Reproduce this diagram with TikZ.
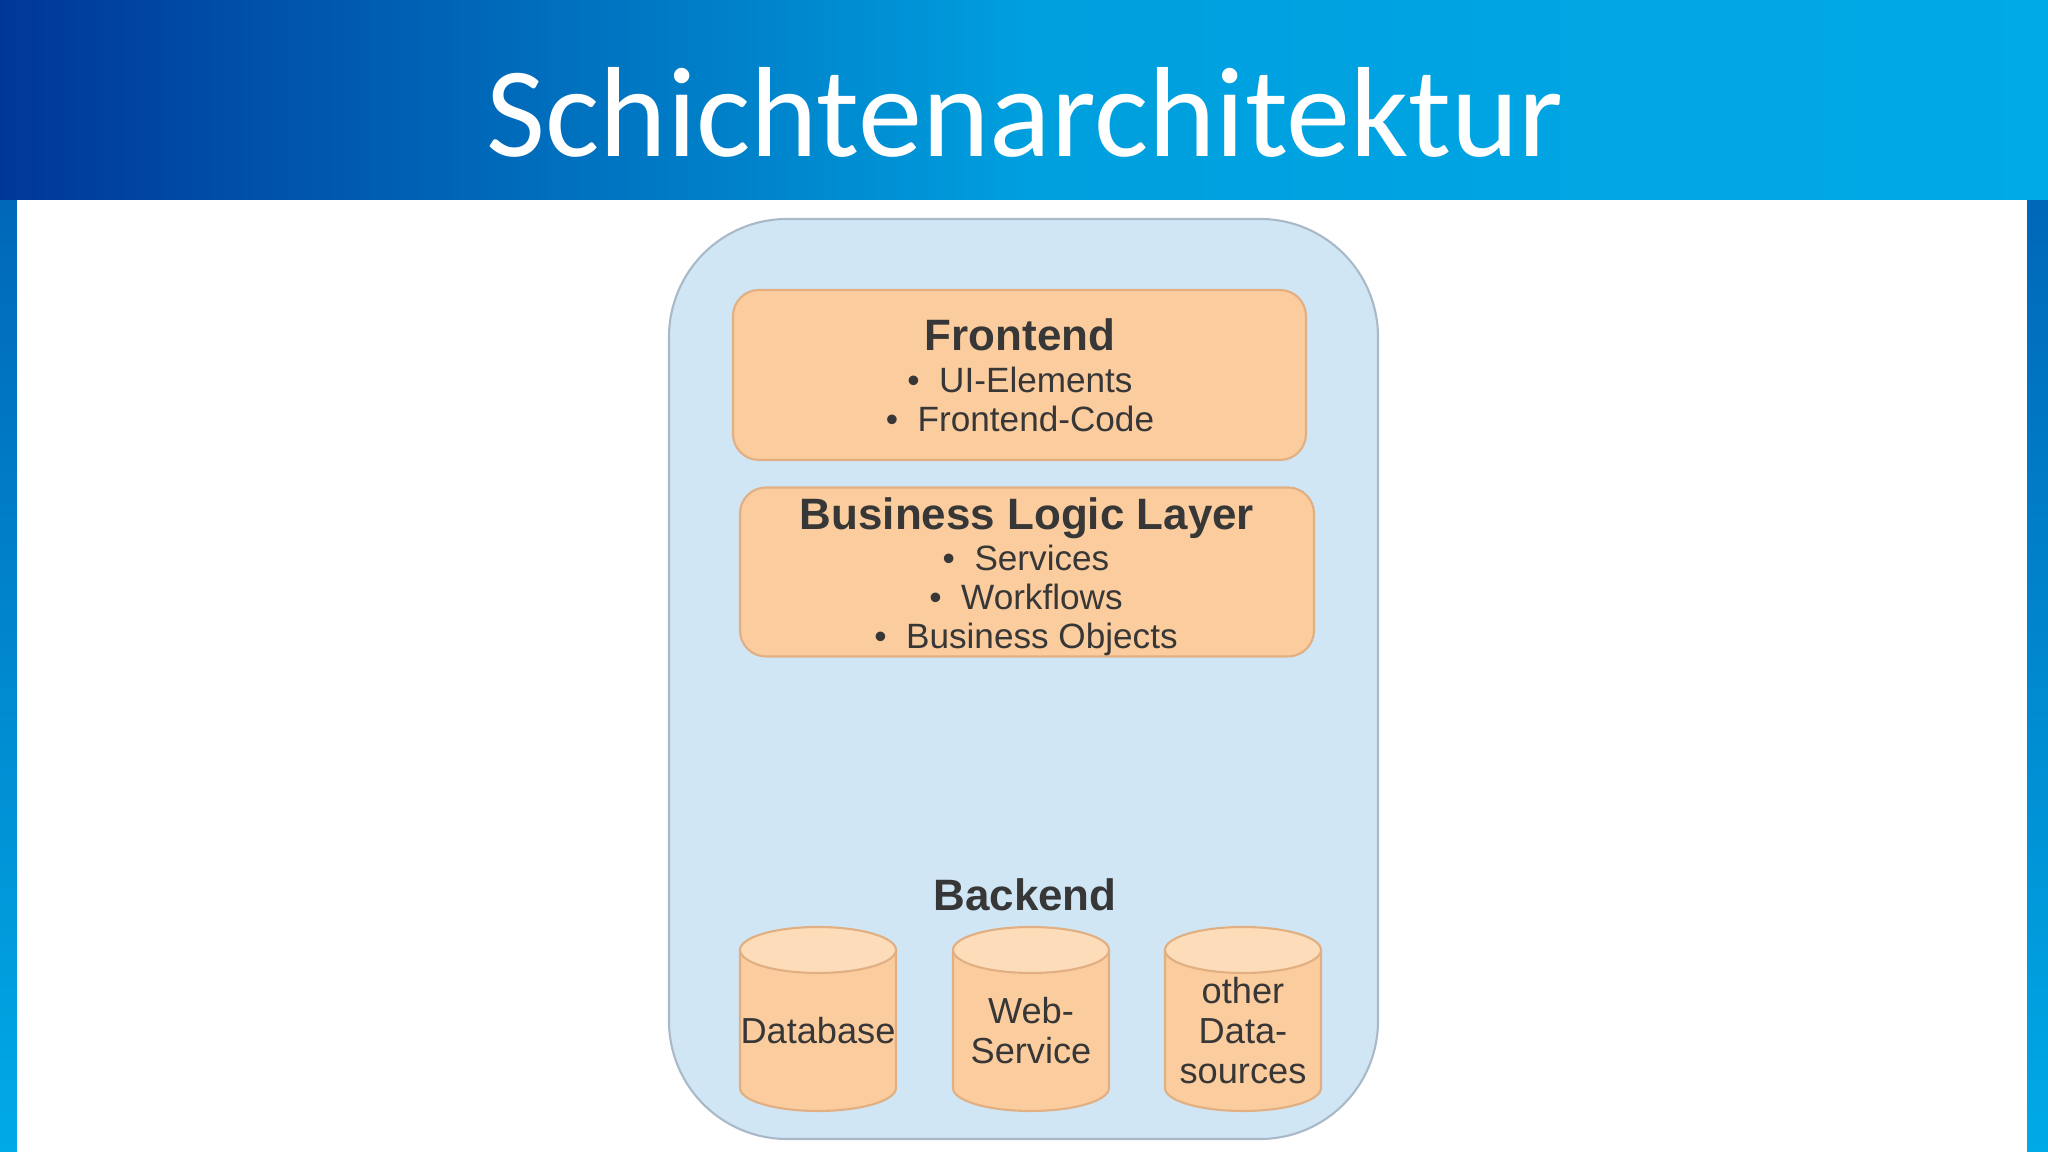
\documentclass[tikz,border=0pt]{standalone}
\usepackage{fontspec}
\setmainfont{Liberation Sans}
\newfontfamily\titlefont{Carlito}
\definecolor{bandL}{RGB}{0,55,150}
\definecolor{bandR}{RGB}{0,170,230}
\definecolor{outerfill}{RGB}{208,230,245}
\definecolor{outerline}{RGB}{170,185,200}
\definecolor{orfill}{RGB}{251,204,158}
\definecolor{orline}{RGB}{225,175,130}
\definecolor{ortop}{RGB}{253,220,185}
\definecolor{txt}{RGB}{55,55,55}
\tikzset{
 layerbox/.style={draw=orline,fill=orfill,rounded corners=0.26cm,line width=0.6pt},
 heading/.style={font=\fontsize{12.5}{14}\selectfont\bfseries,text=txt},
 items/.style={font=\fontsize{10}{11.1}\selectfont,text=txt,align=center},
 cylline/.style={draw=orline,line width=0.6pt},
 storetext/.style={font=\fontsize{10.3}{11.4}\selectfont,text=txt,align=center}
}
\newcommand{\mycyl}[2]{%
 \draw[cylline,fill=orfill] (#1+-0.78,#2+0.69) -- (#1+-0.78,#2+-0.69) arc[start angle=180,end angle=360,x radius=0.78,y radius=0.23] -- (#1+0.78,#2+0.69);
 \draw[cylline,fill=ortop] (#1,#2+0.69) ellipse[x radius=0.78,y radius=0.23];
}
\begin{document}
\begin{tikzpicture}
\useasboundingbox (0,0) rectangle (20.48,11.52);
\shade[top color=bandL!70!bandR,bottom color=bandR] (0,0) rectangle (20.48,11.52);
\shade[left color=bandL,right color=bandR,middle color=bandR!90!bandL] (0,9.52) rectangle (20.48,11.52);
\fill[white] (0.17,0) rectangle (20.27,9.52);
\node[font=\titlefont\fontsize{36.5}{40}\selectfont,text=white] (title) at (10.25,10.40) {Schichtenarchitektur};
\draw[outerline,fill=outerfill,rounded corners=1.18cm,line width=0.6pt] (6.69,0.13) rectangle (13.78,9.33);
\node[layerbox,minimum width=5.73cm,minimum height=1.70cm] (fe) at (10.195,7.77) {};
\node[heading] (feh) at (10.2,8.17) {Frontend};
\node[items,anchor=north] (fei) at (10.2,7.97) {• \ UI-Elements\\• \ Frontend-Code};
\node[layerbox,minimum width=5.74cm,minimum height=1.69cm] (bll) at (10.27,5.80) {};
\node[heading] (bllh) at (10.27,6.34) {Business Logic Layer};
\node[items,anchor=north] (blli) at (10.26,6.19) {• \ Services\\• \ Workflows\\• \ Business Objects};
\node[heading] (be) at (10.25,2.57) {Backend};
\mycyl{8.18}{1.33}
\mycyl{10.31}{1.33}
\mycyl{12.43}{1.33}
\node[storetext] (dbt) at (8.18,1.21) {Database};
\node[storetext] (wst) at (10.31,1.21) {Web-\\Service};
\node[storetext] (odt) at (12.43,1.21) {other\\Data-\\sources};
\end{tikzpicture}
\end{document}
